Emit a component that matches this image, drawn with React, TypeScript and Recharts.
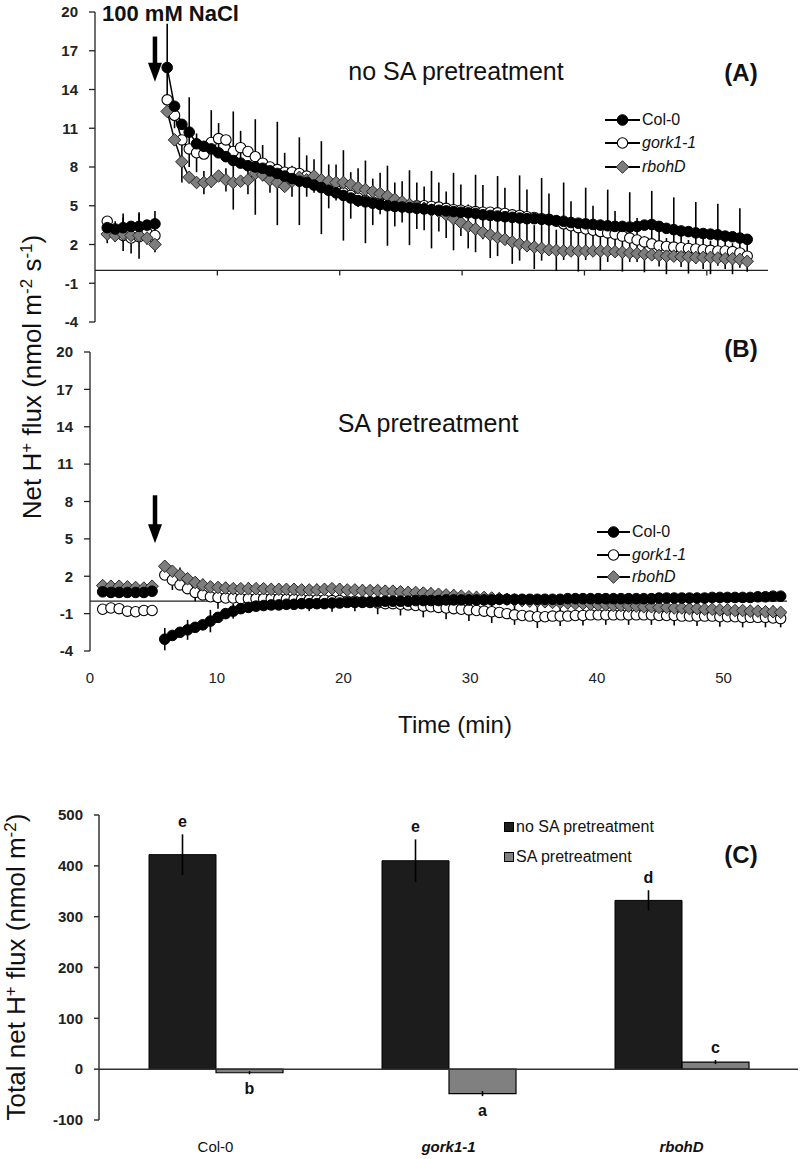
import React from 'react';
import {
  LineChart,
  Line,
  XAxis,
  YAxis,
  ReferenceLine,
  ErrorBar,
  Legend,
  BarChart,
  Bar,
  LabelList,
} from 'recharts';

const FONT = '"Liberation Sans", Arial, Helvetica, sans-serif';

// ---------- time axis (min) ----------
const PRE_TIMES = [1.0, 1.65, 2.3, 2.95, 3.6, 4.25, 4.9];
const GAP_TIME = 5.4;
const POST_TIMES = [
  5.9, 6.5, 7.1, 7.7, 8.3, 8.9, 9.5, 10.1, 10.7, 11.3,
  11.9, 12.5, 13.1, 13.7, 14.3, 14.9, 15.5, 16.1, 16.7, 17.3,
  17.9, 18.5, 19.1, 19.7, 20.3, 20.9, 21.5, 22.1, 22.7, 23.3,
  23.9, 24.5, 25.1, 25.7, 26.3, 26.9, 27.5, 28.1, 28.7, 29.3,
  29.9, 30.5, 31.1, 31.7, 32.3, 32.9, 33.5, 34.1, 34.7, 35.3,
  35.9, 36.5, 37.1, 37.7, 38.3, 38.9, 39.5, 40.1, 40.7, 41.3,
  41.9, 42.5, 43.1, 43.7, 44.3, 44.9, 45.5, 46.1, 46.7, 47.3,
  47.9, 48.5, 49.1, 49.7, 50.3, 50.9, 51.5, 52.1, 52.7, 53.3,
  53.9, 54.5,
];
const X_TICKS = [0, 10, 20, 30, 40, 50];
const Y_TICKS = [-4, -1, 2, 5, 8, 11, 14, 17, 20];

// ---------- Panel A: no SA pretreatment ----------
const A_PRE_COL0 = [3.3, 3.2, 3.3, 3.4, 3.4, 3.5, 3.6];
const A_PRE_GORK = [3.8, 3.0, 2.7, 2.5, 2.6, 2.9, 2.7];
const A_PRE_RBOH = [2.8, 2.7, 2.8, 2.7, 2.7, 2.5, 2.0];
const A_PRE_COL0_ERR = [0.9, 0, 1.1, 0, 1.0, 0, 1.0];
const A_PRE_GORK_ERR = [0, 0.8, 0, 1.2, 0, 0.9, 0];
const A_PRE_RBOH_ERR = [0.7, 0, 1.3, 0, 1.8, 0, 0.6];

const A_POST_COL0 = [
  15.7, 12.7, 11.3, 10.7, 9.8, 9.6, 9.4, 9.1, 8.8, 8.5,
  8.3, 8.1, 8.0, 7.9, 7.7, 7.5, 7.3, 7.1, 6.9, 6.8,
  6.6, 6.4, 6.2, 6.0, 5.8, 5.6, 5.4, 5.3, 5.2, 5.1,
  5.0, 4.95, 4.9, 4.85, 4.8, 4.75, 4.7, 4.65, 4.6, 4.55,
  4.5, 4.45, 4.4, 4.3, 4.25, 4.2, 4.15, 4.1, 4.05, 4.0,
  4.0, 3.95, 3.9, 3.85, 3.8, 3.7, 3.65, 3.6, 3.55, 3.5,
  3.45, 3.4, 3.4, 3.35, 3.4, 3.5, 3.55, 3.4, 3.25, 3.15,
  3.05, 3.0, 2.9, 2.85, 2.8, 2.75, 2.65, 2.6, 2.5, 2.4,
];
const A_POST_GORK = [
  13.2, 12.0, 10.1, 9.4, 9.1, 9.0, 9.9, 10.2, 10.1, 9.2,
  9.5, 9.2, 8.8, 8.3, 8.0, 7.8, 7.6, 7.6, 7.5, 7.3,
  7.1, 6.8, 6.5, 6.2, 6.0, 5.8, 5.6, 5.4, 5.3, 5.2,
  5.2, 5.1, 5.05, 5.0, 5.0, 5.0, 4.95, 4.9, 4.8, 4.7,
  4.65, 4.6, 4.55, 4.5, 4.5, 4.45, 4.4, 4.3, 4.25, 4.15,
  4.1, 4.0, 3.95, 3.8, 3.6, 3.45, 3.3, 3.2, 3.1, 3.0,
  2.9, 2.8, 2.65, 2.5, 2.35, 2.2, 2.05, 1.9, 1.85, 1.8,
  1.75, 1.7, 1.65, 1.6, 1.55, 1.5, 1.5, 1.45, 1.35, 1.1,
];
const A_POST_RBOH = [
  12.3, 10.1, 8.4, 7.2, 6.8, 6.8, 6.9, 7.3, 7.0, 6.8,
  6.9, 7.0, 7.5, 7.4, 7.0, 6.8, 6.5, 6.9, 7.2, 7.0,
  7.3, 7.0, 6.9, 6.8, 6.8, 6.65, 6.4, 6.25, 6.1, 5.95,
  5.75, 5.5, 5.3, 5.1, 4.95, 4.8, 4.65, 4.55, 4.3, 4.0,
  3.7, 3.4, 3.2, 2.95, 2.75, 2.55, 2.4, 2.2, 2.05, 1.9,
  1.8, 1.7, 1.6, 1.55, 1.5, 1.5, 1.5, 1.5, 1.5, 1.5,
  1.5, 1.45, 1.4, 1.35, 1.3, 1.25, 1.2, 1.15, 1.1, 1.1,
  1.05, 1.05, 1.0, 1.0, 1.0, 0.95, 0.9, 0.9, 0.85, 0.7,
];
const A_POST_COL0_ERR = [
  3.4, 0, 0, 2.7, 0, 0, 3.0, 0, 0, 3.8,
  0, 0, 3.7, 0, 0, 4.0, 0, 0, 3.4, 0,
  0, 3.6, 0, 0, 3.5, 0, 0, 3.2, 0, 0,
  3.1, 0, 0, 2.9, 0, 0, 3.0, 0, 0, 3.0,
  0, 0, 3.0, 0, 0, 3.1, 0, 0, 3.3, 0,
  0, 3.2, 0, 0, 3.0, 0, 0, 2.8, 0, 0,
  2.8, 0, 0, 2.7, 0, 0, 2.6, 0, 0, 2.5,
  0, 0, 2.4, 0, 0, 2.4, 0, 0, 2.3, 0,
];
const A_POST_GORK_ERR = [
  0, 1.0, 0, 0, 1.5, 0, 0, 1.2, 0, 0,
  1.3, 0, 0, 1.4, 0, 0, 1.5, 0, 0, 1.6,
  0, 0, 1.7, 0, 0, 1.8, 0, 0, 1.8, 0,
  0, 1.7, 0, 0, 1.8, 0, 0, 1.9, 0, 0,
  2.0, 0, 0, 2.1, 0, 0, 2.0, 0, 0, 2.1,
  0, 0, 2.0, 0, 0, 1.9, 0, 0, 1.9, 0,
  0, 1.8, 0, 0, 1.7, 0, 0, 1.6, 0, 0,
  1.5, 0, 0, 1.5, 0, 0, 1.4, 0, 0, 1.2,
];
const A_POST_RBOH_ERR = [
  0, 0, 1.6, 0, 0, 0.9, 0, 0, 0.9, 0,
  0, 1.1, 0, 0, 1.0, 0, 0, 1.2, 0, 0,
  1.3, 0, 0, 1.4, 0, 0, 1.5, 0, 0, 1.6,
  0, 0, 1.6, 0, 0, 1.7, 0, 0, 1.8, 0,
  0, 1.7, 0, 0, 1.8, 0, 0, 1.7, 0, 0,
  1.7, 0, 0, 1.6, 0, 0, 1.6, 0, 0, 1.5,
  0, 0, 1.5, 0, 0, 1.4, 0, 0, 1.4, 0,
  0, 1.3, 0, 0, 1.3, 0, 0, 1.2, 0, 0,
];

// ---------- Panel B: SA pretreatment ----------
const B_PRE_COL0 = [0.75, 0.7, 0.7, 0.7, 0.7, 0.7, 0.8];
const B_PRE_GORK = [-0.65, -0.55, -0.6, -0.8, -0.85, -0.75, -0.75];
const B_PRE_RBOH = [1.25, 1.2, 1.2, 1.15, 1.1, 1.05, 1.2];
const B_PRE_COL0_ERR = [0.3, 0, 0.3, 0, 0.3, 0, 0.3];
const B_PRE_GORK_ERR = [0, 0.4, 0, 0.4, 0, 0.4, 0];
const B_PRE_RBOH_ERR = [0.3, 0, 0, 0.3, 0, 0, 0.3];

const B_POST_COL0 = [
  -3.05, -2.75, -2.5, -2.3, -2.1, -1.9, -1.6, -1.3, -1.0, -0.8,
  -0.6, -0.5, -0.4, -0.35, -0.3, -0.3, -0.25, -0.25, -0.2, -0.2,
  -0.2, -0.2, -0.15, -0.15, -0.1, -0.1, -0.1, -0.05, -0.05, 0.0,
  0.0, 0.0, 0.0, 0.05, 0.05, 0.05, 0.05, 0.1, 0.1, 0.1,
  0.1, 0.1, 0.1, 0.1, 0.15, 0.15, 0.15, 0.15, 0.15, 0.15,
  0.15, 0.15, 0.15, 0.2, 0.2, 0.2, 0.2, 0.2, 0.2, 0.2,
  0.2, 0.2, 0.2, 0.2, 0.2, 0.25, 0.25, 0.25, 0.25, 0.25,
  0.25, 0.25, 0.3, 0.3, 0.3, 0.3, 0.3, 0.3, 0.35, 0.35,
  0.4, 0.4,
];
const B_POST_GORK = [
  2.1, 1.7, 1.3, 1.0, 0.7, 0.5, 0.35, 0.3, 0.25, 0.25,
  0.2, 0.2, 0.2, 0.2, 0.2, 0.2, 0.15, 0.15, 0.15, 0.1,
  0.1, 0.1, 0.05, 0.05, 0.0, 0.0, -0.05, -0.1, -0.15, -0.2,
  -0.2, -0.25, -0.3, -0.35, -0.4, -0.45, -0.5, -0.55, -0.6, -0.65,
  -0.7, -0.75, -0.8, -0.85, -0.9, -1.0, -1.1, -1.15, -1.2, -1.25,
  -1.25, -1.2, -1.2, -1.2, -1.15, -1.15, -1.1, -1.1, -1.1, -1.1,
  -1.1, -1.1, -1.1, -1.1, -1.1, -1.15, -1.15, -1.15, -1.2, -1.2,
  -1.2, -1.2, -1.2, -1.25, -1.25, -1.25, -1.3, -1.3, -1.3, -1.3,
  -1.35, -1.4,
];
const B_POST_RBOH = [
  2.8, 2.4, 2.1, 1.8, 1.5, 1.3, 1.15, 1.1, 1.05, 1.0,
  1.0, 1.0, 1.0, 1.0, 0.95, 0.95, 0.95, 0.95, 0.9, 0.9,
  0.9, 0.95, 1.0, 0.95, 0.9, 0.9, 0.85, 0.85, 0.85, 0.8,
  0.8, 0.75, 0.7, 0.7, 0.65, 0.6, 0.55, 0.5, 0.45, 0.4,
  0.35, 0.3, 0.3, 0.25, 0.2, 0.15, 0.1, 0.05, 0.0, 0.0,
  -0.05, -0.1, -0.1, -0.15, -0.2, -0.2, -0.25, -0.3, -0.3, -0.35,
  -0.35, -0.4, -0.4, -0.45, -0.45, -0.5, -0.5, -0.55, -0.55, -0.6,
  -0.6, -0.65, -0.65, -0.7, -0.7, -0.75, -0.75, -0.8, -0.8, -0.85,
  -0.85, -0.9,
];
const B_POST_COL0_ERR = [
  0.9, 0, 0, 0.8, 0, 0, 0.9, 0, 0, 0.6,
  0, 0, 0.4, 0, 0, 0.3, 0, 0, 0.3, 0,
  0, 0.3, 0, 0, 0.3, 0, 0, 0.3, 0, 0,
  0.3, 0, 0, 0.3, 0, 0, 0.3, 0, 0, 0.3,
  0, 0, 0.3, 0, 0, 0.3, 0, 0, 0.3, 0,
  0, 0.3, 0, 0, 0.3, 0, 0, 0.3, 0, 0,
  0.3, 0, 0, 0.3, 0, 0, 0.3, 0, 0, 0.3,
  0, 0, 0.3, 0, 0, 0.3, 0, 0, 0.3, 0,
  0, 0.3,
];
const B_POST_GORK_ERR = [
  0, 0.8, 0, 0, 0.7, 0, 0, 0.9, 0, 0,
  0.9, 0, 0, 0.8, 0, 0, 0.8, 0, 0, 0.9,
  0, 0, 0.9, 0, 0, 0.8, 0, 0, 0.9, 0,
  0, 0.9, 0, 0, 0.9, 0, 0, 0.9, 0, 0,
  0.9, 0, 0, 0.9, 0, 0, 0.8, 0, 0, 0.9,
  0, 0, 0.8, 0, 0, 0.8, 0, 0, 0.8, 0,
  0, 0.8, 0, 0, 0.8, 0, 0, 0.8, 0, 0,
  0.8, 0, 0, 0.8, 0, 0, 0.8, 0, 0, 0.8,
  0, 0.7,
];
const B_POST_RBOH_ERR = [
  0, 0, 0.6, 0, 0, 0.5, 0, 0, 0.5, 0,
  0, 0.5, 0, 0, 0.4, 0, 0, 0.5, 0, 0,
  0.5, 0, 0, 0.5, 0, 0, 0.5, 0, 0, 0.5,
  0, 0, 0.5, 0, 0, 0.5, 0, 0, 0.5, 0,
  0, 0.5, 0, 0, 0.5, 0, 0, 0.5, 0, 0,
  0.5, 0, 0, 0.5, 0, 0, 0.5, 0, 0, 0.5,
  0, 0, 0.5, 0, 0, 0.5, 0, 0, 0.5, 0,
  0, 0.5, 0, 0, 0.5, 0, 0, 0.5, 0, 0,
  0.5, 0,
];

// ---------- Panel C: total net H+ flux ----------
const GENOTYPES = ['Col-0', 'gork1-1', 'rbohD'];
const TOTAL_NO_SA = [422, 410, 332];
const TOTAL_NO_SA_ERR = [40, 42, 20];
const TOTAL_SA = [-7, -48, 14];
const TOTAL_SA_ERR = [3, 5, 4];
const LETTERS_NO_SA = ['e', 'e', 'd'];
const LETTERS_SA = ['b', 'a', 'c'];
const C_TICKS = [-100, 0, 100, 200, 300, 400, 500];

// ---------- series styling ----------
type MarkerKind = 'filled' | 'open' | 'diamond';
const SERIES: { key: 'c' | 'g' | 'r'; name: string; marker: MarkerKind; italic: boolean }[] = [
  { key: 'c', name: 'Col-0', marker: 'filled', italic: false },
  { key: 'g', name: 'gork1-1', marker: 'open', italic: true },
  { key: 'r', name: 'rbohD', marker: 'diamond', italic: true },
];

function renderMarker(kind: MarkerKind, cx: number, cy: number, key?: string) {
  if (kind === 'filled') return <circle key={key} cx={cx} cy={cy} r={5.3} fill="#000" stroke="#000" strokeWidth={1} />;
  if (kind === 'open') return <circle key={key} cx={cx} cy={cy} r={5.2} fill="#fff" stroke="#000" strokeWidth={1.1} />;
  const h = 6.3;
  return (
    <path
      key={key}
      d={`M${cx},${cy - h} L${cx + h},${cy} L${cx},${cy + h} L${cx - h},${cy} Z`}
      fill="#7d7d7d"
      stroke="#2a2a2a"
      strokeWidth={1}
    />
  );
}

const makeDot = (kind: MarkerKind, prefix: string) => (p: any) => {
  const k = `${prefix}-${p.index}`;
  if (p.cy == null || Number.isNaN(p.cy) || p.value == null) return <g key={k} />;
  return renderMarker(kind, p.cx, p.cy, k);
};

type Row = { t: number; c: number | null; g: number | null; r: number | null; ce?: number; ge?: number; re?: number };

function buildRows(
  pre: number[][],
  preErr: number[][],
  post: number[][],
  postErr: number[][],
): Row[] {
  const rows: Row[] = PRE_TIMES.map((t, i) => ({
    t,
    c: pre[0][i],
    g: pre[1][i],
    r: pre[2][i],
    ce: preErr[0][i],
    ge: preErr[1][i],
    re: preErr[2][i],
  }));
  rows.push({ t: GAP_TIME, c: null, g: null, r: null });
  post[0].forEach((v, i) => {
    rows.push({
      t: POST_TIMES[i],
      c: v,
      g: post[1][i],
      r: post[2][i],
      ce: postErr[0][i],
      ge: postErr[1][i],
      re: postErr[2][i],
    });
  });
  return rows;
}

const rowsA = buildRows(
  [A_PRE_COL0, A_PRE_GORK, A_PRE_RBOH],
  [A_PRE_COL0_ERR, A_PRE_GORK_ERR, A_PRE_RBOH_ERR],
  [A_POST_COL0, A_POST_GORK, A_POST_RBOH],
  [A_POST_COL0_ERR, A_POST_GORK_ERR, A_POST_RBOH_ERR],
);
const rowsB = buildRows(
  [B_PRE_COL0, B_PRE_GORK, B_PRE_RBOH],
  [B_PRE_COL0_ERR, B_PRE_GORK_ERR, B_PRE_RBOH_ERR],
  [B_POST_COL0, B_POST_GORK, B_POST_RBOH],
  [B_POST_COL0_ERR, B_POST_GORK_ERR, B_POST_RBOH_ERR],
);

const barRows = GENOTYPES.map((name, i) => ({
  name,
  noSA: TOTAL_NO_SA[i],
  noSAErr: TOTAL_NO_SA_ERR[i],
  sa: TOTAL_SA[i],
  saErr: TOTAL_SA_ERR[i],
  noSALetter: LETTERS_NO_SA[i],
  saLetter: LETTERS_SA[i],
}));

// ---------- shapes ----------
const Arrow = (p: any) => {
  const { x1, y1, x2, y2 } = p;
  const head = 19;
  const hw = 7;
  return (
    <g>
      <line x1={x1} y1={y1} x2={x2} y2={y2 - head + 1} stroke="#000" strokeWidth={4.5} />
      <polygon points={`${x2 - hw},${y2 - head} ${x2 + hw},${y2 - head} ${x2},${y2}`} fill="#000" />
    </g>
  );
};

const SeriesLegend = ({ lineW, rowH }: { lineW: number; rowH: number }) => (
  <div style={{ fontFamily: FONT, fontSize: 16, color: '#111' }}>
    {SERIES.map((s) => (
      <div key={s.key} style={{ display: 'flex', alignItems: 'center', height: rowH }}>
        <svg width={lineW} height={16} style={{ display: 'block', overflow: 'visible' }}>
          <line x1={0} y1={8} x2={lineW} y2={8} stroke="#000" strokeWidth={2.2} />
          {renderMarker(s.marker, lineW / 2, 8)}
        </svg>
        <span style={{ marginLeft: 2, fontStyle: s.italic ? 'italic' : 'normal' }}>{s.name}</span>
      </div>
    ))}
  </div>
);

const BarLegend = () => (
  <div style={{ fontFamily: FONT, fontSize: 16, color: '#111' }}>
    {[
      { label: 'no SA pretreatment', fill: '#1c1c1c' },
      { label: 'SA pretreatment', fill: '#808080' },
    ].map((it) => (
      <div key={it.label} style={{ display: 'flex', alignItems: 'center', height: 30 }}>
        <svg width={10} height={10} style={{ display: 'block' }}>
          <rect x={0.5} y={0.5} width={9} height={9} fill={it.fill} stroke="#000" strokeWidth={1} />
        </svg>
        <span style={{ marginLeft: 2 }}>{it.label}</span>
      </div>
    ))}
  </div>
);

const C_HEIGHT = 369;
const C_MARGIN_TOP = 25;
const C_XAXIS_H = 39;
const C_PX_PER_UNIT = (C_HEIGHT - C_MARGIN_TOP - C_XAXIS_H) / (500 - -100);

const makeLetter = (valKey: 'noSA' | 'sa', errKey: 'noSAErr' | 'saErr', letterKey: 'noSALetter' | 'saLetter') =>
  (props: any) => {
    const vb = props.viewBox && props.viewBox.width != null ? props.viewBox : props;
    const idx = props.index;
    const row = barRows[idx];
    if (!row) return null;
    const x = Number(vb.x);
    const y = Number(vb.y);
    const w = Number(vb.width);
    const h = Number(vb.height);
    const top = Math.min(y, y + h);
    const bottom = Math.max(y, y + h);
    const errPx = row[errKey] * C_PX_PER_UNIT;
    const by = row[valKey] >= 0 ? top - errPx - 7 : bottom + errPx + 20;
    return (
      <text
        key={`${letterKey}-${idx}`}
        x={x + w / 2}
        y={by}
        textAnchor="middle"
        fontFamily={FONT}
        fontSize={16}
        fontWeight={700}
        fill="#111"
      >
        {row[letterKey]}
      </text>
    );
  };

const CategoryTick = (p: any) => {
  const v = p.payload?.value;
  return (
    <text
      x={p.x}
      y={p.y}
      dy="0.71em"
      textAnchor="middle"
      fontFamily={FONT}
      fontSize={15}
      fontStyle={v === 'Col-0' ? 'normal' : 'italic'}
      fontWeight={v === 'Col-0' ? 400 : 700}
      fill="#111"
    >
      {v}
    </text>
  );
};

const axisStyle = { stroke: '#222', strokeWidth: 1.3 };
const yTickStyle = { fontSize: 15, fontWeight: 700, fill: '#222', fontFamily: FONT };

function renderSeries(prefix: string) {
  const order: ('g' | 'r' | 'c')[] = ['g', 'r', 'c'];
  return order.map((k) => {
    const s = SERIES.find((x) => x.key === k)!;
    return (
      <Line
        key={`${prefix}-${k}`}
        type="linear"
        dataKey={k}
        name={s.name}
        stroke="#000"
        strokeWidth={1.5}
        connectNulls={false}
        isAnimationActive={false}
        activeDot={false}
        dot={makeDot(s.marker, `${prefix}${k}`)}
      >
        <ErrorBar dataKey={`${k}e`} width={0} stroke="#000" strokeWidth={1.6} direction="y" />
      </Line>
    );
  });
}

export default function App() {
  return (
    <div style={{ position: 'absolute', left: 0, top: 0, width: 800, height: 1159, background: '#fff', overflow: 'hidden' }}>
      {/* Panel A */}
      <div style={{ position: 'absolute', left: 0, top: 0 }}>
        <LineChart width={800} height={330} data={rowsA} margin={{ top: 12, right: 32, bottom: 8, left: 0 }}>
          <XAxis type="number" dataKey="t" domain={[0, 55]} hide allowDataOverflow />
          <YAxis
            type="number"
            domain={[-4, 20]}
            ticks={Y_TICKS}
            interval={0}
            allowDataOverflow
            width={95}
            axisLine={axisStyle}
            tickLine={axisStyle}
            tickSize={6}
            tickMargin={11}
            tick={yTickStyle}
          />
          <ReferenceLine y={0} stroke="#222" strokeWidth={1.3} />
          {X_TICKS.slice(1).map((t) => (
            <ReferenceLine key={`at${t}`} segment={[{ x: t, y: 0 }, { x: t, y: -0.4 }]} stroke="#222" strokeWidth={1.3} />
          ))}
          <ReferenceLine segment={[{ x: 4.9, y: 18.1 }, { x: 4.9, y: 14.6 }]} shape={Arrow} />
          {renderSeries('a')}
          <Legend
            layout="vertical"
            align="center"
            verticalAlign="middle"
            wrapperStyle={{ top: 108, left: 605, width: 170 }}
            content={() => <SeriesLegend lineW={35} rowH={23.5} />}
          />
        </LineChart>
      </div>

      {/* Panel B */}
      <div style={{ position: 'absolute', left: 0, top: 340 }}>
        <LineChart width={800} height={360} data={rowsB} margin={{ top: 12, right: 13, bottom: 19, left: 0 }}>
          <XAxis
            type="number"
            dataKey="t"
            domain={[0, 55]}
            ticks={X_TICKS}
            interval={0}
            allowDataOverflow
            height={30}
            axisLine={false}
            tickLine={false}
            tickSize={6}
            tickMargin={15}
            tick={{ fontSize: 15, fill: '#222', fontFamily: FONT }}
          />
          <YAxis
            type="number"
            domain={[-4, 20]}
            ticks={Y_TICKS}
            interval={0}
            allowDataOverflow
            width={90}
            axisLine={axisStyle}
            tickLine={axisStyle}
            tickSize={6}
            tickMargin={11}
            tick={yTickStyle}
          />
          <ReferenceLine y={0} stroke="#222" strokeWidth={1.3} />
          <ReferenceLine segment={[{ x: 5.13, y: 8.5 }, { x: 5.13, y: 4.65 }]} shape={Arrow} />
          {renderSeries('b')}
          <Legend
            layout="vertical"
            align="center"
            verticalAlign="middle"
            wrapperStyle={{ top: 181, left: 597, width: 170 }}
            content={() => <SeriesLegend lineW={33} rowH={22.5} />}
          />
        </LineChart>
      </div>

      {/* Panel C */}
      <div style={{ position: 'absolute', left: 0, top: 790 }}>
        <BarChart
          width={800}
          height={C_HEIGHT}
          data={barRows}
          margin={{ top: C_MARGIN_TOP, right: 2, bottom: 0, left: 0 }}
          barGap={0}
          barSize={67}
        >
          <XAxis
            dataKey="name"
            height={C_XAXIS_H}
            axisLine={false}
            tickLine={false}
            tickSize={0}
            tickMargin={21}
            interval={0}
            tick={CategoryTick}
          />
          <YAxis
            type="number"
            domain={[-100, 500]}
            ticks={C_TICKS}
            interval={0}
            allowDataOverflow
            width={99}
            axisLine={{ stroke: '#333', strokeWidth: 1.5 }}
            tickLine={{ stroke: '#333', strokeWidth: 1.5 }}
            tickSize={5}
            tickMargin={11}
            tick={yTickStyle}
          />
          <Bar dataKey="noSA" name="no SA pretreatment" fill="#1c1c1c" stroke="#000" strokeWidth={1} isAnimationActive={false}>
            <ErrorBar dataKey="noSAErr" width={0} stroke="#000" strokeWidth={1.6} direction="y" />
            <LabelList dataKey="noSALetter" content={makeLetter('noSA', 'noSAErr', 'noSALetter')} />
          </Bar>
          <Bar dataKey="sa" name="SA pretreatment" fill="#808080" stroke="#000" strokeWidth={1.2} isAnimationActive={false}>
            <ErrorBar dataKey="saErr" width={0} stroke="#000" strokeWidth={1.6} direction="y" />
            <LabelList dataKey="saLetter" content={makeLetter('sa', 'saErr', 'saLetter')} />
          </Bar>
          <ReferenceLine y={0} stroke="#333" strokeWidth={1.5} />
          <Legend
            layout="vertical"
            align="center"
            verticalAlign="middle"
            wrapperStyle={{ top: 22, left: 504, width: 200 }}
            content={() => <BarLegend />}
          />
        </BarChart>
      </div>

      {/* Annotations */}
      <svg
        width={800}
        height={1159}
        style={{ position: 'absolute', left: 0, top: 0, pointerEvents: 'none' }}
        fontFamily={FONT}
        fill="#111"
      >
        <text x={102} y={21} fontSize={22} fontWeight={700}>100 mM NaCl</text>
        <text x={456} y={80} fontSize={25} textAnchor="middle">no SA pretreatment</text>
        <text x={741} y={81} fontSize={24} fontWeight={700} textAnchor="middle">(A)</text>
        <text x={741} y={357} fontSize={24} fontWeight={700} textAnchor="middle">(B)</text>
        <text x={428} y={432} fontSize={25} textAnchor="middle">SA pretreatment</text>
        <text x={455} y={733} fontSize={24} textAnchor="middle">Time (min)</text>
        <text x={741} y={863} fontSize={24} fontWeight={700} textAnchor="middle">(C)</text>
        <text transform="translate(41,377) rotate(-90)" fontSize={26} textAnchor="middle">
          {'Net H'}
          <tspan dy={-9} fontSize={17}>{'+'}</tspan>
          <tspan dy={9}>{' flux (nmol m'}</tspan>
          <tspan dy={-9} fontSize={17}>{'-2'}</tspan>
          <tspan dy={9}>{' s'}</tspan>
          <tspan dy={-9} fontSize={17}>{'-1'}</tspan>
          <tspan dy={9}>{')'}</tspan>
        </text>
        <text transform="translate(25,967) rotate(-90)" fontSize={26} textAnchor="middle">
          {'Total net H'}
          <tspan dy={-9} fontSize={17}>{'+'}</tspan>
          <tspan dy={9}>{' flux (nmol m'}</tspan>
          <tspan dy={-9} fontSize={17}>{'-2'}</tspan>
          <tspan dy={9}>{')'}</tspan>
        </text>
      </svg>
    </div>
  );
}
